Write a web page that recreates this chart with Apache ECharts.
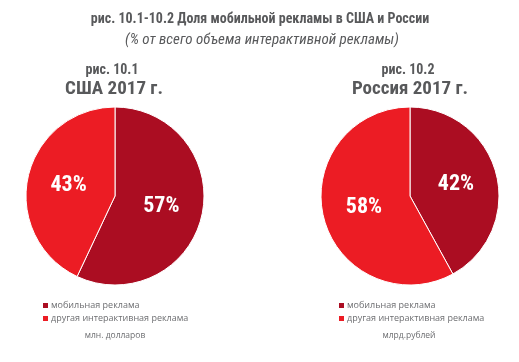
<!DOCTYPE html>
<html><head><meta charset="utf-8">
<script src="https://cdn.jsdelivr.net/npm/echarts@6/dist/echarts.min.js"></script>
<style>html,body{margin:0;padding:0;background:#fff}#c{width:519px;height:362px}</style>
</head><body><div id="c"></div>
<script>
const categories = ['мобильная реклама', 'другая интерактивная реклама'];
const usaValues = [57, 43];
const russiaValues = [42, 58];
const colors = ['#AB0D22', '#EC1C24'];
const narrow = '"Roboto Condensed","DejaVu Sans Condensed",sans-serif';
const textGray = '#58595B';
const legendFont = '"Open Sans",sans-serif';

const chart = echarts.init(document.getElementById('c'));
function pieData(vals){ return categories.map((n,i)=>({name:n, value:vals[i], itemStyle:{color:colors[i]}})); }
const pieCommon = {
  type:'pie', radius:[0, 89], startAngle:90, clockwise:true,
  itemStyle:{borderColor:'#fff', borderWidth:1},
  label:{position:'inner', formatter:'{c}%', color:'#fff', fontFamily:narrow, fontWeight:'bold', fontSize:22},
  labelLine:{show:false}, emphasis:{disabled:true}, silent:true, animation:false
};
const legendCommon = {orient:'vertical', top:301, padding:0, icon:'rect', itemWidth:7, itemHeight:7, itemGap:4,
  selectedMode:false, data:categories,
  textStyle:{fontFamily:legendFont, fontSize:9, lineHeight:9, color:'#6d6e71', padding:[0,0,0,-3]}};
chart.setOption({
  animation:false,
  title:[
    {text:'рис. 10.1-10.2 Доля мобильной рекламы в США и России', left:260, top:12, textAlign:'center', padding:0,
     textStyle:{fontFamily:narrow, fontWeight:'bold', fontSize:14, color:textGray}},
    {text:'(% от всего объема интерактивной рекламы)', left:262, top:33, textAlign:'center', padding:0,
     textStyle:{fontFamily:narrow, fontStyle:'italic', fontWeight:'normal', fontSize:15, color:textGray}},
    {text:'рис. 10.1', left:112, top:63, textAlign:'center', padding:0,
     textStyle:{fontFamily:narrow, fontWeight:'bold', fontSize:14, color:textGray}},
    {text:'США 2017 г.', left:114, top:80, textAlign:'center', padding:0,
     textStyle:{fontFamily:narrow, fontWeight:'bold', fontSize:19, color:textGray}},
    {text:'рис. 10.2', left:408, top:63, textAlign:'center', padding:0,
     textStyle:{fontFamily:narrow, fontWeight:'bold', fontSize:14, color:textGray}},
    {text:'Россия 2017 г.', left:410, top:80, textAlign:'center', padding:0,
     textStyle:{fontFamily:narrow, fontWeight:'bold', fontSize:19, color:textGray}},
    {text:'млн. долларов', left:115, top:331, textAlign:'center', padding:0,
     textStyle:{fontFamily:legendFont, fontWeight:'normal', fontSize:8.5, color:'#6d6e71'}},
    {text:'млрд.рублей', left:409, top:331, textAlign:'center', padding:0,
     textStyle:{fontFamily:legendFont, fontWeight:'normal', fontSize:8.5, color:'#6d6e71'}}
  ],
  legend:[
    Object.assign({}, legendCommon, {left:41}),
    Object.assign({}, legendCommon, {left:337})
  ],
  series:[
    Object.assign({}, pieCommon, {name:'США', center:[115,196], data:pieData(usaValues)}),
    Object.assign({}, pieCommon, {name:'Россия', center:[410,196], data:pieData(russiaValues)})
  ]
});
</script></body></html>
